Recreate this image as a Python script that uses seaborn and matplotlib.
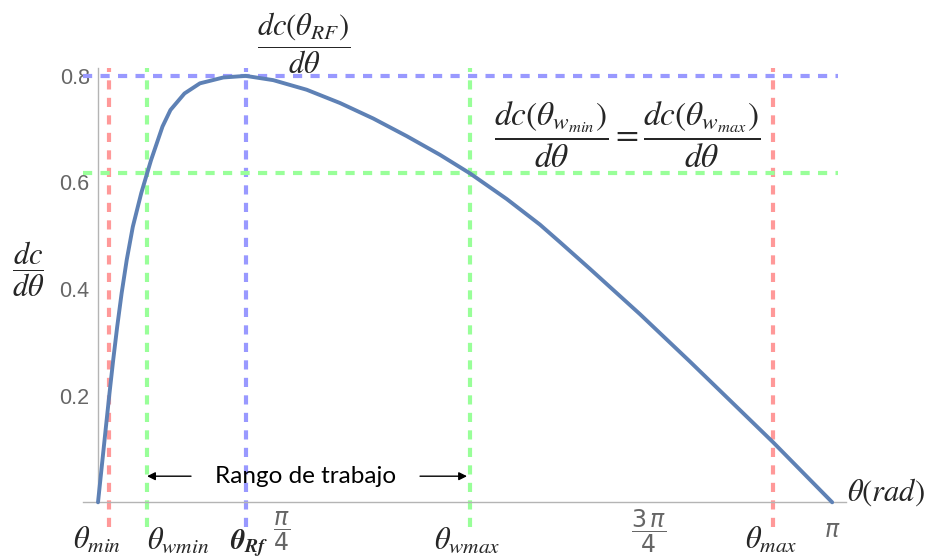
import numpy as np
import pandas as pd
import matplotlib
matplotlib.use("Agg")
import matplotlib.pyplot as plt
from matplotlib.ticker import FixedLocator
import seaborn as sns

# Derivative dc/dθ sampled over 0..π (rad)
theta = [0.000, 0.034, 0.049, 0.065, 0.082, 0.101, 0.123, 0.149, 0.185, 0.210,
         0.227, 0.276, 0.310, 0.370, 0.436, 0.536, 0.632, 0.750, 0.893, 1.036,
         1.178, 1.321, 1.463, 1.592, 1.749, 1.891, 1.977, 2.105, 2.319, 2.533,
         2.747, 2.888, 3.1416]
dc_dtheta = [0.000, 0.142, 0.204, 0.267, 0.329, 0.392, 0.455, 0.517, 0.580, 0.617,
             0.642, 0.705, 0.736, 0.767, 0.786, 0.797, 0.800, 0.792, 0.774, 0.749,
             0.720, 0.687, 0.652, 0.617, 0.569, 0.521, 0.488, 0.438, 0.353, 0.264,
             0.173, 0.113, 0.000]

# Characteristic angles (rad) and levels
theta_min = 0.048
theta_wmin = 0.210
theta_rf = 0.632
theta_wmax = 1.592
theta_max = 2.888
level_rf = 0.800
level_w = 0.618

x_ticks = [np.pi / 4, np.pi / 2, 3 * np.pi / 4, np.pi]
x_tick_labels = [r"$\dfrac{\pi}{4}$", "", r"$\dfrac{3\,\pi}{4}$", r"$\pi$"]
y_ticks = [0.2, 0.4, 0.6, 0.8]
y_tick_labels = ["0.2", "0.4", "0.6", "0.8"]

sns.set_style("white")
plt.rcParams["font.family"] = ["Liberation Sans", "DejaVu Sans"]
plt.rcParams["mathtext.fontset"] = "stix"

W, H = 932, 560
fig = plt.figure(figsize=(W / 100, H / 100), dpi=100)
ax = fig.add_axes([83 / W, 20 / H, 763 / W, 480 / H])


def px(x, y):
    return x / W, 1 - y / H


df = pd.DataFrame({"theta": theta, "dc": dc_dtheta})

dash = (0, (2.2, 2.0))
red, green, blue = "#FF9999", "#99FF99", "#9999FF"
y_lo, y_hi = -0.046, 0.815
x_lo, x_hi = -0.064, 3.167

ax.vlines([theta_min, theta_max], y_lo, y_hi, colors=red, linestyles=dash, lw=3, zorder=2)
ax.vlines([theta_wmin, theta_wmax], y_lo, y_hi, colors=green, linestyles=dash, lw=3, zorder=2)
ax.vlines([theta_rf], y_lo, y_hi, colors=blue, linestyles=dash, lw=3, zorder=2)
ax.hlines([level_rf], x_lo, x_hi, colors=blue, linestyles=dash, lw=3, zorder=2)
ax.hlines([level_w], x_lo, x_hi, colors=green, linestyles=dash, lw=3, zorder=2)

sns.lineplot(data=df, x="theta", y="dc", ax=ax, color="#5E81B5", lw=2.8, zorder=5)

ax.set_xlim(-0.0642, 3.2007)
ax.set_ylim(-0.0707, 0.8298)
ax.set(xlabel="", ylabel="")

for s in ("top", "right"):
    ax.spines[s].set_visible(False)
ax.spines["left"].set_position(("data", 0))
ax.spines["bottom"].set_position(("data", 0))
ax.spines["left"].set_bounds(0, 0.815)
ax.spines["bottom"].set_bounds(-0.0642, 3.2007)
for s in ("left", "bottom"):
    ax.spines[s].set_color("#b4b4b4")
    ax.spines[s].set_linewidth(1.0)

ax.set_xticks(x_ticks)
ax.set_xticklabels(x_tick_labels, math_fontfamily="dejavusans")
ax.set_yticks(y_ticks)
ax.set_yticklabels(y_tick_labels)
ax.yaxis.set_minor_locator(FixedLocator([v for v in np.arange(0.05, 0.81, 0.05)
                                         if all(abs(v - t) > 1e-6 for t in y_ticks)]))
ax.tick_params(which="major", direction="in", length=5.5, width=0.9,
               color="#b4b4b4", labelcolor="#666666")
ax.tick_params(axis="y", which="major", pad=6, labelsize=15.5)
ax.tick_params(axis="x", which="major", pad=21, labelsize=17)
for t in ax.get_xticklabels():
    t.set_va("center")
ax.tick_params(which="minor", direction="in", length=3, width=0.8, color="#c4c4c4")

# Axis titles
fig.text(*px(28, 269), r"$\dfrac{dc}{d\theta}$", fontsize=22, ha="center", va="center")
fig.text(*px(847, 492), r"$\theta(rad)$", fontsize=22, ha="left", va="center")

# Angle labels under the axis
lbl = dict(fontsize=22, ha="center", va="center")
fig.text(*px(97, 541), r"$\theta_{min}$", **lbl)
fig.text(*px(178, 541), r"$\theta_{wmin}$", **lbl)
fig.text(*px(249, 543), r"$\mathbfit{\theta}_{\mathbfit{Rf}}$", fontsize=20,
         ha="center", va="center")
fig.text(*px(467, 541), r"$\theta_{wmax}$", **lbl)
fig.text(*px(771, 541), r"$\theta_{max}$", **lbl)

# Level annotations
fig.text(*px(304, 43), r"$\dfrac{dc(\theta_{RF})}{d\theta}$", fontsize=22, ha="center", va="center")
fig.text(*px(627, 135),
         r"$\dfrac{dc\left(\theta_{w_{min}}\right)}{d\theta}=\dfrac{dc\left(\theta_{w_{max}}\right)}{d\theta}$",
         fontsize=24, ha="center", va="center")

# Working range
y_arrow = 0.049
ax.text((0.398 + 1.378) / 2, y_arrow, "Rango de trabajo", fontsize=17.5,
        family=["Lato", "DejaVu Sans"], ha="center", va="center", color="black")
arrow = dict(arrowstyle="-|>", color="black", lw=1.0, shrinkA=0, shrinkB=0, mutation_scale=12)
ax.annotate("", xy=(theta_wmin, y_arrow), xytext=(0.398, y_arrow), arrowprops=arrow)
ax.annotate("", xy=(theta_wmax - 0.013, y_arrow), xytext=(1.378, y_arrow), arrowprops=arrow)

fig.savefig("out.png", dpi=100, facecolor="white")
